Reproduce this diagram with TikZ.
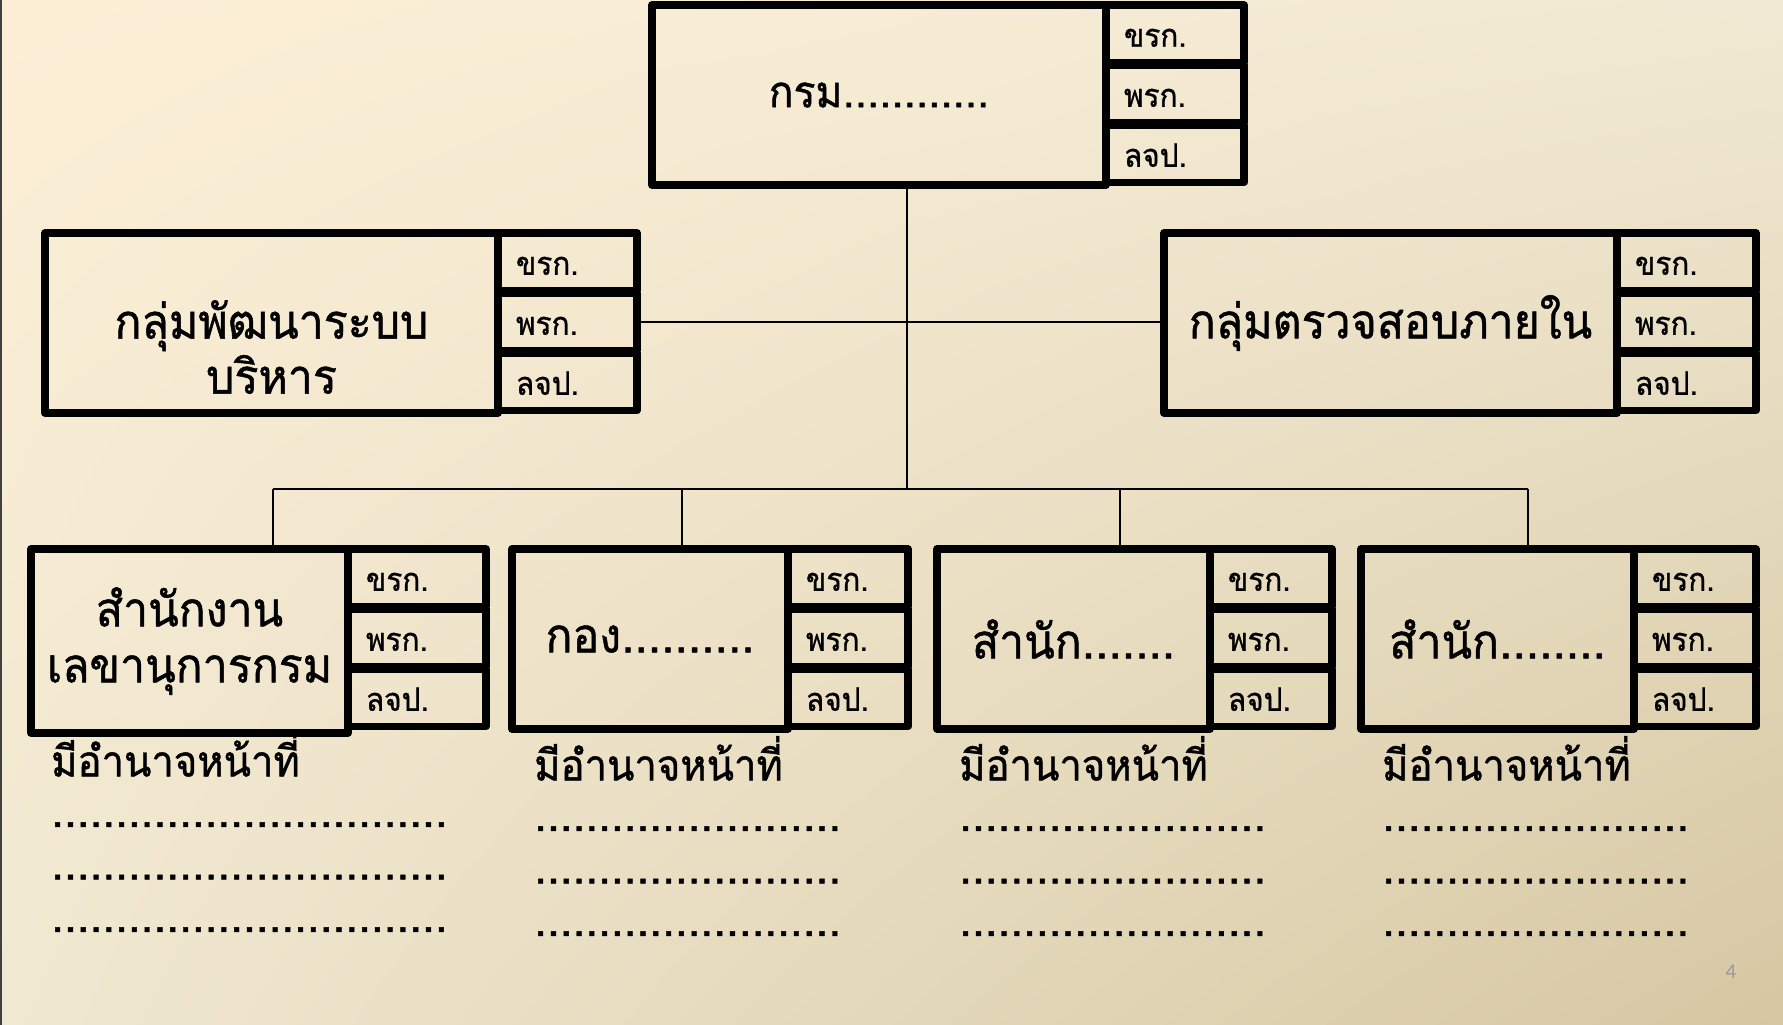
\documentclass[tikz,border=0pt]{standalone}
\usepackage{fontspec}
\newfontfamily\thaifont[Script=Thai, FakeStretch=0.93, FakeBold=1]{Loma}
\newfontfamily\dotfont[Script=Thai, FakeBold=1]{Loma}
\newfontfamily\numfont{Carlito}
\usetikzlibrary{positioning,shadings}

\definecolor{bgtl}{HTML}{FDEFD6}
\definecolor{bgtr}{HTML}{F1E9D3}
\definecolor{bgbl}{HTML}{F0E8D1}
\definecolor{bgbr}{HTML}{D6C7A2}

\tikzset{
  unit/.style={draw, line width=7.5pt, line join=round, inner sep=0pt, outer sep=0pt,
    minimum height=180pt, anchor=north west, align=center,
    font=\thaifont\fontsize{48}{56}\selectfont},
  rank/.style={draw, line width=7.5pt, line join=round, outer sep=0pt,
    inner xsep=18pt, inner ysep=0pt, text width=#1, align=left,
    minimum height=57.5pt, text height=30pt, text depth=4pt,
    font=\thaifont\fontsize{32}{38}\selectfont},
  link/.style={line width=2.5pt},
  duty/.style={anchor=north west, inner sep=0pt, align=left,
    font=\dotfont\fontsize{46}{52.5}\selectfont},
}

\begin{document}
\begin{tikzpicture}[x=1pt,y=-1pt]
  \useasboundingbox (0,0) rectangle (1783,1025);
  \shade[upper left=bgtl, upper right=bgtr, lower left=bgbl, lower right=bgbr]
    (0,0) rectangle (1783,1025);
  \fill[black!75] (0,0) rectangle (2,1025);

  % top
  \node[unit, minimum width=454pt, font=\thaifont\fontsize{44}{50}\selectfont] (krom) at (652,5) {กรม{\dotfont ............}};
  \node[rank=102pt, anchor=north west] (krom-a) at (krom.north east) {ขรก.};
  \node[rank=102pt, below=2.5pt of krom-a] (krom-b) {พรก.};
  \node[rank=102pt, below=2.5pt of krom-b] (krom-c) {ลจป.};

  % middle
  \node[unit, minimum width=453pt] (devgrp) at (45,233) {};
  \node[align=center, font=\thaifont\fontsize{48}{55}\selectfont] (devgrp-text)
    at ([yshift=-24pt]devgrp.center) {กลุ่มพัฒนาระบบ\\บริหาร};
  \node[rank=103pt, anchor=north west] (devgrp-a) at (devgrp.north east) {ขรก.};
  \node[rank=103pt, below=2.5pt of devgrp-a] (devgrp-b) {พรก.};
  \node[rank=103pt, below=2.5pt of devgrp-b] (devgrp-c) {ลจป.};

  \node[unit, minimum width=453pt] (audit) at (1164,233) {กลุ่มตรวจสอบภายใน};
  \node[rank=103pt, anchor=north west] (audit-a) at (audit.north east) {ขรก.};
  \node[rank=103pt, below=2.5pt of audit-a] (audit-b) {พรก.};
  \node[rank=103pt, below=2.5pt of audit-b] (audit-c) {ลจป.};

  % bottom
  \node[unit, minimum width=317pt, minimum height=184pt] (sec1) at (31,549) {สำนักงาน\\เลขานุการกรม};
  \node[rank=102pt, anchor=north west] (sec1-a) at (sec1.north east) {ขรก.};
  \node[rank=102pt, below=2.5pt of sec1-a] (sec1-b) {พรก.};
  \node[rank=102pt, below=2.5pt of sec1-b] (sec1-c) {ลจป.};

  \node[unit, minimum width=276pt] (sec2) at (512,549) {กอง{\dotfont ..........}};
  \node[rank=84pt, anchor=north west] (sec2-a) at (sec2.north east) {ขรก.};
  \node[rank=84pt, below=2.5pt of sec2-a] (sec2-b) {พรก.};
  \node[rank=84pt, below=2.5pt of sec2-b] (sec2-c) {ลจป.};

  \node[unit, minimum width=273pt] (sec3) at (937,549) {สำนัก{\dotfont .......}};
  \node[rank=86pt, anchor=north west] (sec3-a) at (sec3.north east) {ขรก.};
  \node[rank=86pt, below=2.5pt of sec3-a] (sec3-b) {พรก.};
  \node[rank=86pt, below=2.5pt of sec3-b] (sec3-c) {ลจป.};

  \node[unit, minimum width=273pt] (sec4) at (1361,549) {สำนัก{\dotfont ........}};
  \node[rank=86pt, anchor=north west] (sec4-a) at (sec4.north east) {ขรก.};
  \node[rank=86pt, below=2.5pt of sec4-a] (sec4-b) {พรก.};
  \node[rank=86pt, below=2.5pt of sec4-b] (sec4-c) {ลจป.};

  % duties
  \node[duty] (duty1) at (51,732) {{\thaifont\fontsize{43}{52.5}\selectfont มีอำนาจหน้าที่}\\[-2pt]...............................\\...............................\\...............................};
  \node[duty] (duty2) at (534,736) {{\thaifont\fontsize{43}{52.5}\selectfont มีอำนาจหน้าที่}\\[-2pt]........................\\........................\\........................};
  \node[duty] (duty3) at (959,736) {{\thaifont\fontsize{43}{52.5}\selectfont มีอำนาจหน้าที่}\\[-2pt]........................\\........................\\........................};
  \node[duty] (duty4) at (1382,736) {{\thaifont\fontsize{43}{52.5}\selectfont มีอำนาจหน้าที่}\\[-2pt]........................\\........................\\........................};

  \node[font=\numfont\fontsize{21}{24}\selectfont, text=black!40] (pageno) at (1731,972) {4};

  % links
  \coordinate (trunk) at (907,489);
  \coordinate (bus1) at (273,489);
  \coordinate (bus2) at (682,489);
  \coordinate (bus3) at (1120,489);
  \coordinate (bus4) at (1528,489);
  \begin{scope}[link]
    \draw (trunk |- krom.south) -- (trunk);
    \draw (devgrp-b.east) -- (devgrp-b.east -| audit.west);
    \draw (bus1) -- (bus4);
    \draw (bus1) -- (bus1 |- sec1.north);
    \draw (bus2) -- (bus2 |- sec2.north);
    \draw (bus3) -- (bus3 |- sec3.north);
    \draw (bus4) -- (bus4 |- sec4.north);
  \end{scope}
\end{tikzpicture}
\end{document}
